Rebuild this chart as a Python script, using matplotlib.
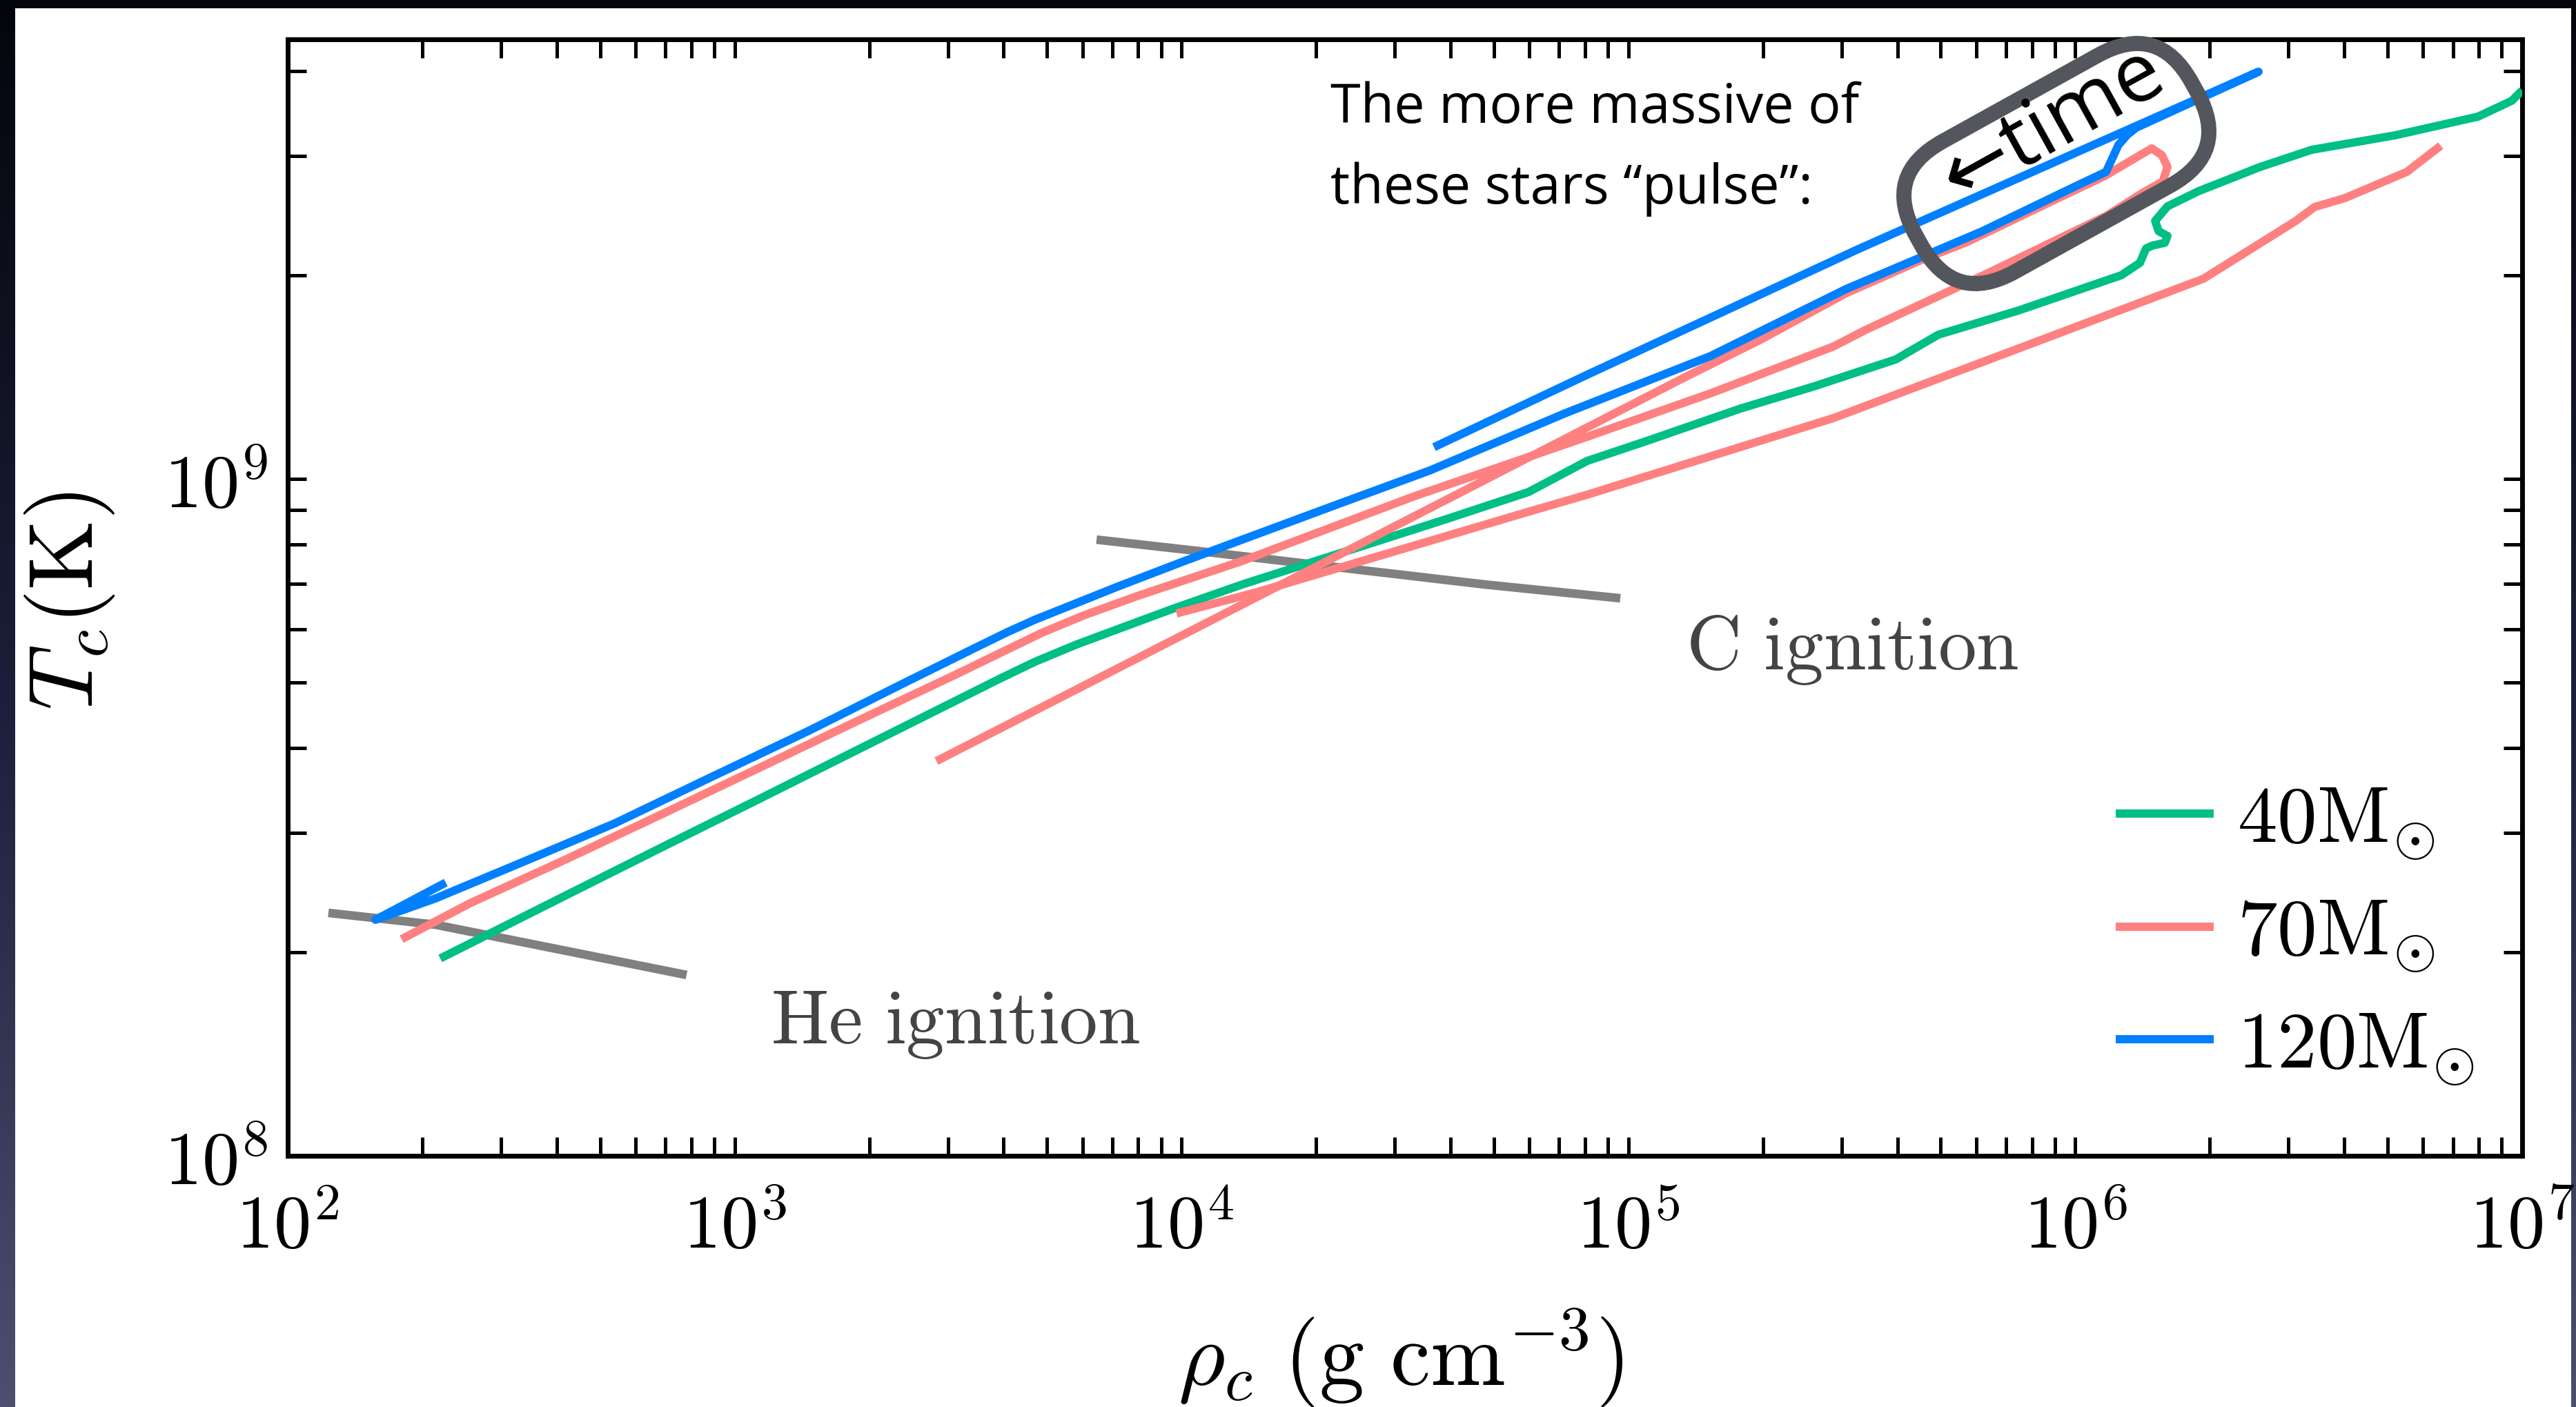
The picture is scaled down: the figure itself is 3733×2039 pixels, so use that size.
import numpy as np
import matplotlib
matplotlib.use("Agg")
import matplotlib.pyplot as plt
from matplotlib.patches import FancyBboxPatch, Rectangle
from matplotlib.transforms import Affine2D
from matplotlib.ticker import LogLocator, FuncFormatter, NullFormatter
from matplotlib.lines import Line2D
from matplotlib.colors import LinearSegmentedColormap

plt.rcParams['mathtext.fontset'] = 'cm'

# ---------------- data (central density g/cm^3, central temperature K) -------------
rho_he = [123.3, 214.0, 780.7]
T_he = [2.285e8, 2.195e8, 1.850e8]

rho_cign = [6454, 1.073e4, 4.776e4, 9.590e4]
T_cign = [8.133e8, 7.834e8, 6.982e8, 6.663e8]

rho_40 = [219.4, 420.6, 691.8, 1142, 1879, 3092, 3937, 4702, 5821, 7333, 9577,
          1.366e4, 2.465e4, 3.970e4, 5.976e4, 8.085e4, 1.075e5, 1.786e5, 2.604e5,
          3.962e5, 4.938e5, 7.459e5, 1.267e6, 1.395e6, 1.440e6, 1.487e6, 1.586e6,
          1.608e6, 1.536e6, 1.509e6, 1.608e6, 1.887e6, 2.590e6, 3.381e6, 5.199e6,
          7.965e6, 9.480e6, 1.0e7]
T_40 = [1.957e8, 2.428e8, 2.862e8, 3.373e8, 3.976e8, 4.686e8, 5.075e8, 5.369e8,
        5.693e8, 6.025e8, 6.431e8, 6.982e8, 7.908e8, 8.748e8, 9.563e8, 1.063e9,
        1.132e9, 1.271e9, 1.370e9, 1.501e9, 1.633e9, 1.773e9, 1.999e9, 2.085e9,
        2.190e9, 2.211e9, 2.232e9, 2.285e9, 2.323e9, 2.405e9, 2.527e9, 2.661e9,
        2.889e9, 3.063e9, 3.218e9, 3.429e9, 3.619e9, 3.749e9]

# 70 Msun: track up to the pulse, then back down (expansion)
rho_70a = [179.8, 255.7, 420.6, 691.8, 1142, 1879, 3092, 3937, 4873, 6032, 8017,
           1.366e4, 3.323e4, 8.085e4, 1.528e5, 2.877e5, 3.376e5, 6.358e5, 1.172e6,
           1.410e6, 1.569e6, 1.608e6, 1.563e6, 1.482e6, 1.164e6, 8.510e5, 5.715e5,
           4.520e5, 3.067e5, 1.967e5, 1.363e5, 1.477e4, 2.828e3]
T_70a = [2.090e8, 2.361e8, 2.744e8, 3.203e8, 3.749e8, 4.387e8, 5.123e8, 5.535e8,
         5.925e8, 6.283e8, 6.724e8, 7.562e8, 9.430e8, 1.154e9, 1.338e9, 1.569e9,
         1.657e9, 2.012e9, 2.446e9, 2.642e9, 2.750e9, 2.889e9, 3.007e9, 3.078e9,
         2.802e9, 2.539e9, 2.237e9, 2.105e9, 1.880e9, 1.603e9, 1.422e9, 6.694e8,
         3.829e8]
# 70 Msun: contraction after the pulse
rho_70b = [9748, 1.477e4, 5.955e4, 8.085e4, 2.877e5, 7.459e5, 1.934e6, 3.115e6,
           3.429e6, 4.011e6, 5.523e6, 6.573e6]
T_70b = [6.327e8, 6.805e8, 8.937e8, 9.476e8, 1.230e9, 1.558e9, 1.975e9, 2.405e9,
         2.521e9, 2.599e9, 2.842e9, 3.107e9]

rho_120 = [225.7, 157.1, 214.0, 328.0, 539.5, 887.6, 1465, 2410, 3501, 4079, 4702,
           5617, 7205, 1.006e4, 2.232e4, 3.594e4, 7.216e4, 1.528e5, 3.067e5,
           6.202e5, 1.024e6, 1.172e6, 1.249e6, 1.309e6, 1.370e6, 2.571e6, 3.269e5,
           8.085e4, 3.672e4]
T_120 = [2.533e8, 2.232e8, 2.400e8, 2.699e8, 3.099e8, 3.628e8, 4.245e8, 5.005e8,
         5.654e8, 5.939e8, 6.196e8, 6.493e8, 6.934e8, 7.545e8, 9.169e8, 1.029e9,
         1.250e9, 1.519e9, 1.907e9, 2.323e9, 2.725e9, 2.842e9, 3.114e9, 3.226e9,
         3.303e9, 3.995e9, 2.185e9, 1.425e9, 1.114e9]

labels = [r'$40\mathrm{M}_{\odot}$', r'$70\mathrm{M}_{\odot}$', r'$120\mathrm{M}_{\odot}$']
colors = ['#00BF86', '#FF8080', '#0080FF']

# ---------------- figure ----------------
W, H, DPI = 3733, 2040, 100
fig = plt.figure(figsize=(W / DPI, H / DPI), dpi=DPI)

# slide background
bg = fig.add_axes([0, 0, 1, 1])
bg.set_xlim(0, 1); bg.set_ylim(0, 1); bg.axis('off')
cmap = LinearSegmentedColormap.from_list('bg', ['#04050c', '#1c1f3a', '#4c4f6e'])
bg.imshow(np.linspace(0, 1, 256)[:, None], aspect='auto', cmap=cmap,
          extent=[0, 1, 0, 1], origin='upper')
bg.add_patch(Rectangle((22 / W, 0), (3726 - 22) / W, 1 - 12.5 / H,
                       facecolor='white', edgecolor='none'))

ax = fig.add_axes([417 / W, 1 - 1676 / H, (3655 - 417) / W, (1676 - 58) / H])
ax.set_xscale('log'); ax.set_yscale('log')
ax.set_xlim(1e2, 1e7); ax.set_ylim(1e8, 4.46e9)

lw = 8.6
ax.plot(rho_he, T_he, color='#808080', lw=9, solid_capstyle='butt', zorder=2)
ax.plot(rho_cign, T_cign, color='#808080', lw=9, solid_capstyle='butt', zorder=2)
kw = dict(lw=lw, solid_capstyle='butt', solid_joinstyle='round', zorder=3)
ax.plot(rho_40, T_40, color=colors[0], **kw)
ax.plot(rho_70a, T_70a, color=colors[1], **kw)
ax.plot(rho_70b, T_70b, color=colors[1], **kw)
ax.plot(rho_120, T_120, color=colors[2], **kw)

ax.text(1205, 1.47e8, r'$\mathrm{He\ ignition}$', fontsize=80, color='#444444',
        ha='left', va='baseline')
ax.text(1.343e5, 5.245e8, r'$\mathrm{C\ ignition}$', fontsize=80, color='#444444',
        ha='left', va='baseline')

fmt = FuncFormatter(lambda v, p: r'$10^{%d}$' % int(round(np.log10(v))))
for axis in (ax.xaxis, ax.yaxis):
    axis.set_major_locator(LogLocator(base=10))
    axis.set_minor_locator(LogLocator(base=10, subs=np.arange(2, 10)))
    axis.set_major_formatter(fmt)
    axis.set_minor_formatter(NullFormatter())
ax.tick_params(which='both', direction='in', top=True, right=True,
               length=19.5, width=3.6, labelsize=78)
ax.tick_params(axis='x', which='major', pad=36)
ax.tick_params(axis='y', which='major', pad=21)
for s in ax.spines.values():
    s.set_linewidth(5)

handles = [Line2D([], [], color=c, lw=lw, solid_capstyle='butt') for c in colors]
ax.legend(handles, labels, loc='upper left', bbox_to_anchor=(3066 / W, 1 - 1132 / H),
          bbox_transform=fig.transFigure, frameon=False, fontsize=83,
          handlelength=1.23, handletextpad=0.3, labelspacing=0.41,
          borderpad=0, borderaxespad=0)

fig.text(101 / W, 1 - 871 / H, r'$T_c(\mathrm{K})$', rotation=90, ha='center',
         va='center', fontsize=94)
fig.text(2030 / W, 1 - 1968 / H, r'$\rho_c\ (\mathrm{g\ cm^{-3}})$', ha='center',
         va='center', fontsize=94)

fig.text(1928 / W, 1 - 178 / H, 'The more massive of', family='Open Sans',
         fontsize=57, ha='left', va='baseline')
fig.text(1928 / W, 1 - 295 / H, 'these stars \u201cpulse\u201d:', family='Open Sans',
         fontsize=57, ha='left', va='baseline')

# rounded "pulse" outline
L, Wd, r = 457, 216, 100
stadium = FancyBboxPatch((-L / 2, -Wd / 2), L, Wd,
                         boxstyle=f"round,pad=0,rounding_size={r}",
                         transform=Affine2D().rotate_deg(29).translate(2980, H - 238),
                         facecolor='none', edgecolor='#53575d', linewidth=22 * 72 / DPI,
                         zorder=10)
fig.add_artist(stadium)
fig.text(2975 / W, 1 - 182 / H, '\u2190time', family=['Open Sans', 'DejaVu Sans'],
         fontsize=86, rotation=29, ha='center', va='center', zorder=11)

fig.savefig('out.png', dpi=DPI)
